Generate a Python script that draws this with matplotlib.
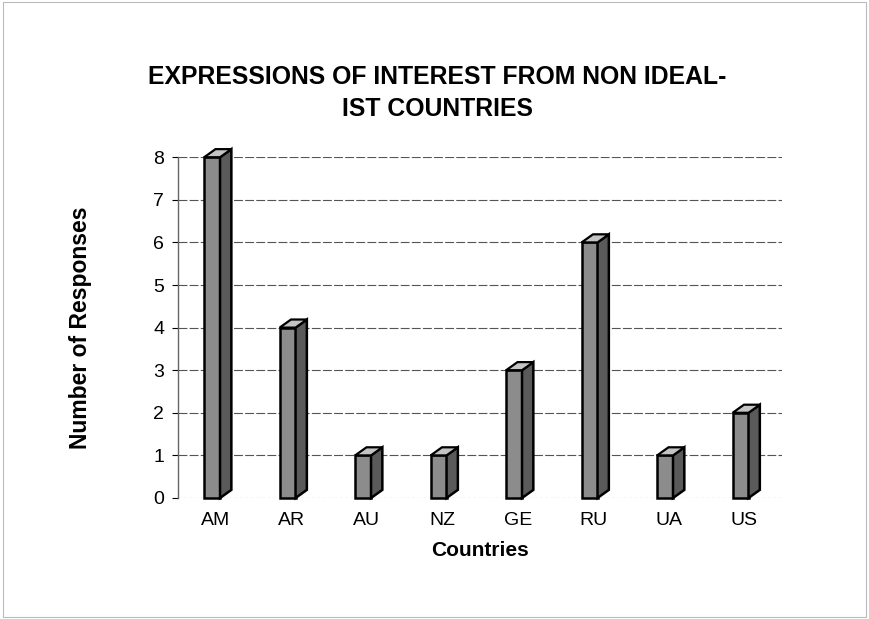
import matplotlib
matplotlib.use("Agg")
import matplotlib.pyplot as plt
from matplotlib.patches import Polygon, Rectangle

countries = ["AM", "AR", "AU", "NZ", "GE", "RU", "UA", "US"]
responses = [8, 4, 1, 1, 3, 6, 1, 2]
yticks = [0, 1, 2, 3, 4, 5, 6, 7, 8]

plt.rcParams['font.family'] = ['Liberation Sans', 'DejaVu Sans']

fig = plt.figure(figsize=(8.69, 6.19), dpi=100)
fig.patches.append(Rectangle((0.003, 0.003), 0.994, 0.994, transform=fig.transFigure,
                             fill=False, edgecolor='#bbbbbb', linewidth=0.8))
ax = fig.add_axes([0.205, 0.1955, 0.695, 0.5505])

w = 0.21     # front width
dx = 0.15    # depth x offset
dy = 0.19    # depth y offset
for i, v in enumerate(responses):
    x0 = i - 0.155
    ax.add_patch(Rectangle((x0, 0), w, v, facecolor='#8c8c8c', edgecolor='black',
                           linewidth=1.8, zorder=3, clip_on=False))
    ax.add_patch(Polygon([(x0 + w, 0), (x0 + w + dx, dy), (x0 + w + dx, v + dy), (x0 + w, v)],
                         closed=True, facecolor='#5a5a5a', edgecolor='black', linewidth=1.8,
                         zorder=3, clip_on=False))
    ax.add_patch(Polygon([(x0, v), (x0 + w, v), (x0 + w + dx, v + dy), (x0 + dx, v + dy)],
                         closed=True, facecolor='#c4c4c4', edgecolor='black', linewidth=1.6,
                         zorder=3, clip_on=False))

ax.set_xlim(-0.5, len(countries) - 0.5)
ax.set_ylim(0, 8)
ax.set_yticks(yticks)
ax.set_xticks(range(len(countries)))
ax.set_xticklabels(countries)
ax.tick_params(axis='x', labelsize=14, length=0, pad=10)
ax.tick_params(axis='y', labelsize=14, length=4, direction='out', pad=6)
for y in yticks[1:]:
    ax.axhline(y, color='#555555', linewidth=0.8, linestyle=(0, (8, 2)), zorder=1)
ax.axhline(0, color='#777777', linewidth=0.8, linestyle=(0, (3, 2)), zorder=1)
for s in ['top', 'right', 'bottom']:
    ax.spines[s].set_visible(False)
ax.spines['left'].set_color('#666666')
ax.spines['left'].set_linewidth(1.0)

ax.set_ylabel("Number of Responses", fontsize=16.5, fontweight='bold', labelpad=44)
ax.set_xlabel("Countries", fontsize=15, fontweight='bold', labelpad=9)
fig.text(0.503, 0.85, "EXPRESSIONS OF INTEREST FROM NON IDEAL-\nIST COUNTRIES",
         ha='center', va='center', fontsize=17.8, fontweight='bold', linespacing=1.45)

fig.savefig("out.png", dpi=100)
